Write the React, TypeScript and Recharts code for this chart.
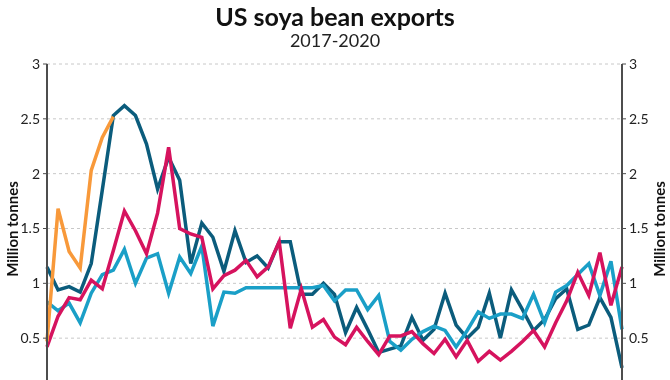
import React from 'react';
import { LineChart, Line, XAxis, YAxis, CartesianGrid } from 'recharts';

const weeks = [
  1, 2, 3, 4, 5, 6, 7, 8, 9, 10, 11, 12, 13, 14, 15, 16, 17, 18, 19, 20, 21, 22, 23, 24, 25, 26,
  27, 28, 29, 30, 31, 32, 33, 34, 35, 36, 37, 38, 39, 40, 41, 42, 43, 44, 45, 46, 47, 48, 49, 50,
  51, 52, 53,
];

const y2017 = [
  1.15, 0.94, 0.97, 0.92, 1.18, 1.85, 2.53, 2.62, 2.53, 2.27,
  1.86, 2.15, 1.94, 1.18, 1.55, 1.42, 1.11, 1.48, 1.19, 1.25,
  1.14, 1.38, 1.38, 0.9, 0.9, 1.0, 0.9, 0.55, 0.78, 0.58,
  0.37, 0.4, 0.43, 0.69, 0.48, 0.58, 0.91, 0.62, 0.5, 0.6,
  0.91, 0.5, 0.94, 0.76, 0.57, 0.67, 0.86, 0.95, 0.58, 0.62,
  0.87, 0.69, 0.23,
];

const y2018 = [
  0.83, 0.75, 0.82, 0.64, 0.91, 1.08, 1.12, 1.31, 1.0, 1.23,
  1.27, 0.91, 1.24, 1.09, 1.34, 0.61, 0.92, 0.91, 0.96, 0.96,
  0.96, 0.96, 0.96, 0.96, 0.96, 0.98, 0.84, 0.94, 0.94, 0.76,
  0.89, 0.47, 0.39, 0.49, 0.56, 0.61, 0.57, 0.42, 0.57, 0.74,
  0.68, 0.72, 0.72, 0.68, 0.9, 0.64, 0.92, 0.98, 1.08, 1.18,
  0.89, 1.2, 0.58,
];

const y2019 = [
  0.42, 0.7, 0.87, 0.85, 1.03, 0.95, 1.3, 1.66, 1.48, 1.27,
  1.64, 2.24, 1.5, 1.45, 1.42, 0.95, 1.07, 1.12, 1.21, 1.06,
  1.15, 1.38, 0.59, 0.95, 0.6, 0.67, 0.51, 0.44, 0.6, 0.47,
  0.35, 0.52, 0.52, 0.56, 0.45, 0.36, 0.49, 0.33, 0.48, 0.29,
  0.38, 0.3, 0.38, 0.47, 0.57, 0.42, 0.64, 0.84, 1.1, 0.89,
  1.28, 0.8, 1.15,
];

const y2020 = [0.47, 1.68, 1.29, 1.14, 2.03, 2.33, 2.52];

// 0 sits just below the visible area, so it is left out of the labelled ticks
const yTicks = [0.5, 1, 1.5, 2, 2.5, 3];

const data = weeks.map((w, i) => ({
  week: w,
  y2017: y2017[i],
  y2018: y2018[i],
  y2019: y2019[i],
  y2020: i < y2020.length ? y2020[i] : null,
}));

const FONT = 'Lato, "Open Sans", sans-serif';
const AXIS = '#4d4d4d';

const tickStyle = { fill: '#222', fontSize: 14, fontFamily: FONT };

const axisLabel: React.CSSProperties = {
  position: 'absolute',
  top: 229,
  transform: 'translate(-50%, -50%) rotate(-90deg)',
  fontSize: 15,
  fontWeight: 700,
  whiteSpace: 'nowrap',
  color: '#111',
};

export default function App() {
  return (
    <div style={{ position: 'fixed', top: 0, left: 0, width: 670, height: 423, fontFamily: FONT }}>
      <div style={{ position: 'absolute', top: 1, left: 0, width: 670, textAlign: 'center', fontSize: 25, fontWeight: 700, lineHeight: '30px', color: '#111' }}>
        US soya bean exports
      </div>
      <div style={{ position: 'absolute', top: 29, left: 0, width: 670, textAlign: 'center', fontSize: 18, lineHeight: '22px', color: '#222' }}>
        2017-2020
      </div>
      <div style={{ ...axisLabel, left: 12 }}>Million tonnes</div>
      <div style={{ ...axisLabel, left: 659 }}>Million tonnes</div>
      <LineChart width={670} height={423} data={data} margin={{ top: 64, right: 0, left: 0, bottom: 30 }}>
        <CartesianGrid yAxisId="left" vertical={false} stroke="#c8c8c8" strokeDasharray="3 3" />
        <XAxis dataKey="week" hide padding={{ left: 0, right: 0 }} />
        <YAxis
          yAxisId="left"
          width={47}
          domain={[0, 3]}
          ticks={yTicks}
          interval={0}
          axisLine={{ stroke: AXIS, strokeWidth: 2 }}
          tickLine={{ stroke: AXIS }}
          tickSize={4}
          tickMargin={3}
          tick={tickStyle}
        />
        <YAxis
          yAxisId="right"
          orientation="right"
          width={48}
          domain={[0, 3]}
          ticks={yTicks}
          interval={0}
          axisLine={{ stroke: AXIS, strokeWidth: 2 }}
          tickLine={{ stroke: AXIS }}
          tickSize={4}
          tickMargin={3}
          tick={tickStyle}
        />
        <Line yAxisId="left" dataKey="y2017" name="2017" stroke="#0b5c7c" strokeWidth={3.5} dot={false} isAnimationActive={false} />
        <Line yAxisId="right" dataKey="y2018" name="2018" stroke="#1a9fc7" strokeWidth={3.5} dot={false} isAnimationActive={false} />
        <Line yAxisId="left" dataKey="y2019" name="2019" stroke="#d6135e" strokeWidth={3.5} dot={false} isAnimationActive={false} />
        <Line yAxisId="left" dataKey="y2020" name="2020" stroke="#f8993a" strokeWidth={3.5} dot={false} isAnimationActive={false} />
      </LineChart>
    </div>
  );
}
